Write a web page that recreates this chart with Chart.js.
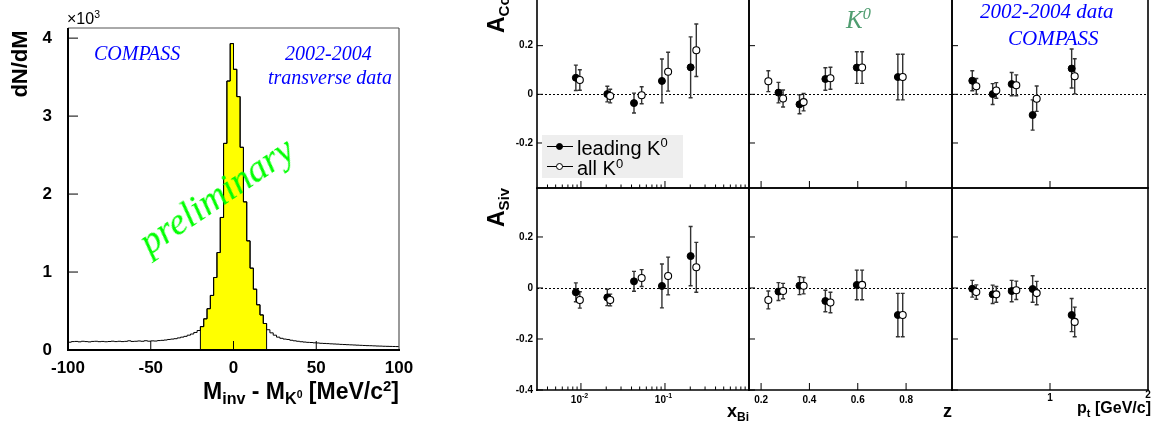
<!DOCTYPE html>
<html>
<head>
<meta charset="utf-8">
<script src="https://cdn.jsdelivr.net/npm/chart.js@4.4.1/dist/chart.umd.min.js"></script>
<style>
  html, body { margin: 0; padding: 0; background: #fff; overflow: hidden; }
  #wrap { position: relative; width: 1155px; height: 421px; overflow: hidden; }
  canvas { position: absolute; }
  .t { position: absolute; white-space: nowrap; line-height: 1; color: #000; }
  .b { font-family: "Liberation Sans", Arial, sans-serif; font-weight: bold; }
  .s { font-family: "Liberation Sans", Arial, sans-serif; }
  .i { font-family: "Liberation Serif", "Times New Roman", serif; font-style: italic; }
  sub, sup { position: relative; vertical-align: baseline; font-size: 0.65em; line-height: 0; }
  sup { top: -0.55em; }
  sub { top: 0.32em; }
  .mk { position: absolute; }
</style>
</head>
<body>
<div id="wrap">
  <canvas id="hist" width="420" height="421" style="left:0;top:0"></canvas>

  <!-- left panel texts -->
  <div class="t b" style="left:20px;top:64px;font-size:22px;transform:translate(-50%,-50%) rotate(-90deg)">dN/dM</div>
  <div class="t s" style="left:67px;top:11px;font-size:16px">&times;10<sup>3</sup></div>
  <div class="t i" style="left:94px;top:43px;font-size:20px;color:#0000ff">COMPASS</div>
  <div class="t i" style="left:285px;top:43px;font-size:20px;color:#0000ff">2002-2004</div>
  <div class="t i" style="left:268px;top:67px;font-size:20px;color:#0000ff">transverse data</div>
  <div class="t i" style="left:216px;top:195px;font-size:38px;color:#00ff00;transform:translate(-50%,-50%) rotate(-34deg)">preliminary</div>
  <div class="t b" style="right:756px;top:380px;font-size:23px">M<sub style="font-size:0.7em">inv</sub> - M<sub style="font-size:0.7em">K<sup>0</sup></sub> [MeV/c<sup>2</sup>]</div>

  <!-- right panel texts -->
  <div class="t i" style="left:846px;top:7px;font-size:25px;color:#4f9d70">K<sup>0</sup></div>
  <div class="t i" style="left:980px;top:1px;font-size:21px;color:#0000ff">2002-2004 data</div>
  <div class="t i" style="left:1008px;top:28px;font-size:21px;color:#0000ff">COMPASS</div>
  <div class="t b" style="left:485px;top:33px;font-size:23px;transform-origin:0 0;transform:rotate(-90deg)">A<sub style="font-size:15px">Coll</sub></div>
  <div class="t b" style="left:485px;top:227px;font-size:23px;transform-origin:0 0;transform:rotate(-90deg)">A<sub style="font-size:15px">Siv</sub></div>
  <div class="t b" style="right:406px;top:402px;font-size:18px">x<sub style="font-size:12px">Bj</sub></div>
  <div class="t b" style="right:203px;top:402px;font-size:18px">z</div>
  <div class="t b" style="right:4px;top:400px;font-size:16px">p<sub style="font-size:11px">t</sub> [GeV/c]</div>
</div>

<script>
// ---------- left: K0 invariant mass spectrum (units of 10^3, 2 MeV bins) ----------
const massRange = [-100, 100];
const binWidth = 2;
const counts = [
  0.100, 0.108, 0.110, 0.105, 0.112, 0.108, 0.104, 0.110, 0.112, 0.107,
  0.110, 0.106, 0.109, 0.113, 0.108, 0.112, 0.108, 0.111, 0.118, 0.110,
  0.112, 0.116, 0.112, 0.119, 0.113, 0.117, 0.115, 0.121, 0.124, 0.128,
  0.135, 0.140, 0.145, 0.155, 0.165, 0.175, 0.190, 0.205, 0.225, 0.250,
  0.300, 0.400, 0.530, 0.700, 0.930, 1.250, 1.700, 2.650, 3.450, 3.930,
  3.600, 3.250, 2.600, 1.900, 1.400, 1.050, 0.780, 0.580, 0.450, 0.340,
  0.260, 0.220, 0.190, 0.165, 0.150, 0.140, 0.135, 0.125, 0.118, 0.112,
  0.106, 0.102, 0.098, 0.096, 0.092, 0.090, 0.086, 0.084, 0.082, 0.079,
  0.077, 0.075, 0.072, 0.070, 0.068, 0.066, 0.064, 0.062, 0.060, 0.058,
  0.056, 0.055, 0.053, 0.051, 0.050, 0.048, 0.047, 0.046, 0.045, 0.044
];
const signalWindow = [-20, 20];

// ---------- right: asymmetries vs x_Bj, z, p_t ----------
const xBjLead = [0.0087, 0.0206, 0.0428, 0.092, 0.202];
const xBjAll  = [0.0097, 0.0223, 0.0528, 0.109, 0.236];
const zLead   = [0.272, 0.359, 0.466, 0.596, 0.766];
const zAll    = [0.230, 0.291, 0.376, 0.487, 0.618, 0.786];
const ptLead  = [0.207, 0.415, 0.609, 0.823, 1.221];
const ptAll   = [0.248, 0.452, 0.656, 0.864, 1.252];

const collXbjLead = [0.068, 0.001, -0.036, 0.055, 0.111];
const collXbjLeadErr = [0.052, 0.032, 0.041, 0.090, 0.125];
const collXbjAll = [0.059, -0.007, -0.004, 0.093, 0.181];
const collXbjAllErr = [0.042, 0.028, 0.035, 0.080, 0.108];
const collZLead = [0.007, -0.041, 0.063, 0.110, 0.071];
const collZLeadErr = [0.042, 0.039, 0.046, 0.065, 0.094];
const collZAll = [0.054, -0.017, -0.032, 0.066, 0.110, 0.071];
const collZAllErr = [0.043, 0.035, 0.036, 0.045, 0.065, 0.094];
const collPtLead = [0.056, 0.001, 0.042, -0.085, 0.106];
const collPtLeadErr = [0.041, 0.043, 0.048, 0.062, 0.080];
const collPtAll = [0.033, 0.016, 0.037, -0.018, 0.074];
const collPtAllErr = [0.032, 0.032, 0.043, 0.052, 0.072];

const sivXbjLead = [-0.017, -0.037, 0.026, 0.008, 0.125];
const sivXbjLeadErr = [0.037, 0.032, 0.039, 0.086, 0.116];
const sivXbjAll = [-0.047, -0.047, 0.039, 0.047, 0.081];
const sivXbjAllErr = [0.032, 0.023, 0.033, 0.074, 0.098];
const sivZLead = [-0.014, 0.009, -0.051, 0.012, -0.106];
const sivZLeadErr = [0.035, 0.035, 0.042, 0.058, 0.085];
const sivZAll = [-0.047, -0.012, 0.009, -0.057, 0.012, -0.106];
const sivZAllErr = [0.035, 0.030, 0.032, 0.040, 0.058, 0.085];
const sivPtLead = [-0.003, -0.025, -0.012, -0.004, -0.106];
const sivPtLeadErr = [0.033, 0.036, 0.042, 0.052, 0.065];
const sivPtAll = [-0.016, -0.025, -0.009, -0.020, -0.133];
const sivPtAllErr = [0.028, 0.031, 0.036, 0.046, 0.058];

const legendLabels = ['leading K', 'all K'];

// ROOT-like frame, inward ticks, zero line and error bars
const rootAxes = {
  id: 'rootAxes',
  beforeDatasetsDraw(chart, args, o) {
    const { ctx, chartArea: a, scales: { x, y } } = chart;
    ctx.save();
    ctx.beginPath();
    ctx.rect(a.left - 1, a.top - 1, a.width + 2, a.height + 2);
    ctx.clip();
    if (o.zero) {
      const y0 = Math.round(y.getPixelForValue(0)) + 0.5;
      ctx.setLineDash([2, 2]);
      ctx.strokeStyle = '#000';
      ctx.lineWidth = 1;
      ctx.beginPath();
      ctx.moveTo(a.left, y0);
      ctx.lineTo(a.right, y0);
      ctx.stroke();
      ctx.setLineDash([]);
    }
    chart.data.datasets.forEach(ds => {
      if (!ds.errors) return;
      ctx.strokeStyle = '#333';
      ctx.lineWidth = 1.4;
      ds.data.forEach((p, j) => {
        const px = x.getPixelForValue(p.x);
        const hi = y.getPixelForValue(p.y + ds.errors[j]);
        const lo = y.getPixelForValue(p.y - ds.errors[j]);
        ctx.beginPath();
        ctx.moveTo(px, hi); ctx.lineTo(px, lo);
        ctx.moveTo(px - 2, hi); ctx.lineTo(px + 2, hi);
        ctx.moveTo(px - 2, lo); ctx.lineTo(px + 2, lo);
        ctx.stroke();
      });
    });
    ctx.restore();
  },
  afterDraw(chart, args, o) {
    const { ctx, chartArea: a, scales: { x, y } } = chart;
    ctx.save();
    ctx.strokeStyle = '#000';
    ctx.lineWidth = 1;
    ctx.beginPath();
    (o.xMajor || []).forEach(v => {
      const px = x.getPixelForValue(v);
      ctx.moveTo(px, a.bottom); ctx.lineTo(px, a.bottom - o.xLen);
    });
    (o.xMinor || []).forEach(v => {
      const px = x.getPixelForValue(v);
      ctx.moveTo(px, a.bottom); ctx.lineTo(px, a.bottom - o.xLen / 2);
    });
    (o.yMajor || []).forEach(v => {
      const py = y.getPixelForValue(v);
      if (py < a.top - 1 || py > a.bottom + 1) return;
      ctx.moveTo(a.left, py); ctx.lineTo(a.left + o.yLen, py);
    });
    ctx.stroke();

    // frame: [top, right, bottom, left]
    const side = (w, col, x1, y1, x2, y2) => {
      if (!w) return;
      ctx.strokeStyle = col;
      ctx.lineWidth = w;
      ctx.beginPath(); ctx.moveTo(x1, y1); ctx.lineTo(x2, y2); ctx.stroke();
    };
    const f = o.frame, c = o.frameColor;
    side(f[0], c[0], a.left, a.top, a.right, a.top);
    side(f[1], c[1], a.right, a.top, a.right, a.bottom);
    side(f[2], c[2], a.left - 1, a.bottom, a.right + 1, a.bottom);
    side(f[3], c[3], a.left, a.top, a.left, a.bottom + 1);

    ctx.fillStyle = '#000';
    ctx.textBaseline = 'middle';
    if (o.yLabels) {
      ctx.font = 'bold 10px "Liberation Sans", Arial, sans-serif';
      ctx.textAlign = 'right';
      o.yLabels.forEach(v => {
        ctx.fillText(String(v), a.left - 4, y.getPixelForValue(v));
      });
    }
    if (o.xLabels) {
      o.xLabels.forEach(l => {
        const px = x.getPixelForValue(l[0]);
        const ly = a.bottom + 10 + (l[3] || 0);
        ctx.font = 'bold 10px "Liberation Sans", Arial, sans-serif';
        if (l[2]) {
          ctx.textAlign = 'right';
          ctx.fillText(l[1], px + 1, ly);
          ctx.font = 'bold 7px "Liberation Sans", Arial, sans-serif';
          ctx.textAlign = 'left';
          ctx.fillText(l[2], px + 1, ly - 4);
        } else {
          ctx.textAlign = 'center';
          ctx.fillText(l[1], px, ly);
        }
      });
    }
    ctx.restore();
  }
};

// histogram points at bin edges, drawn stepped
const edges = counts.map((c, i) => massRange[0] + i * binWidth);
const histLine = edges.map((e, i) => ({ x: e, y: counts[i] }));
histLine.push({ x: massRange[1], y: counts[counts.length - 1] });

const inWindow = edges.map((e, i) => ({ x: e, y: counts[i] }))
  .filter(p => p.x >= signalWindow[0] && p.x < signalWindow[1]);
const signalFill = [{ x: signalWindow[0], y: 0 }, ...inWindow,
  { x: signalWindow[1], y: inWindow[inWindow.length - 1].y }, { x: signalWindow[1], y: 0 }];

const tickFont = { family: 'Liberation Sans', weight: 'bold', size: 17 };

new Chart(document.getElementById('hist'), {
  type: 'line',
  data: {
    datasets: [
      { data: histLine, stepped: true, borderColor: '#000', borderWidth: 1, pointRadius: 0, fill: false, order: 0 },
      { data: signalFill, stepped: true, borderColor: '#000', borderWidth: 1, pointRadius: 0,
        backgroundColor: '#ffff00', fill: 'origin', order: 1 }
    ]
  },
  options: {
    responsive: false,
    animation: false,
    events: [],
    layout: { padding: { left: 0, top: 28, right: 21, bottom: 0 } },
    scales: {
      x: {
        type: 'linear', min: massRange[0], max: massRange[1],
        grid: { display: false }, border: { display: false },
        ticks: { stepSize: 50, font: tickFont, color: '#000', padding: 0, maxRotation: 0, autoSkip: false },
        afterFit: s => { s.height = 71; }
      },
      y: {
        min: 0, max: 4.13,
        grid: { display: false }, border: { display: false },
        ticks: { stepSize: 1, includeBounds: false, font: tickFont, color: '#000', padding: 8 },
        afterFit: s => { s.width = 68; }
      }
    },
    plugins: {
      legend: { display: false },
      tooltip: { enabled: false },
      rootAxes: {
        xMajor: [-50, 0, 50], xLen: 9, yMajor: [1, 2, 3, 4], yLen: 10,
        frame: [1, 1.2, 2, 2], frameColor: ['#555', '#555', '#000', '#000']
      }
    }
  },
  plugins: [rootAxes]
});

// ---------- 2 x 3 grid of asymmetry panels ----------
const columns = [
  { left: 537, right: 749, type: 'logarithmic', min: 0.003, max: 1, lead: xBjLead, all: xBjAll,
    major: [0.01, 0.1],
    minor: [0.004, 0.005, 0.006, 0.007, 0.008, 0.009, 0.02, 0.03, 0.04, 0.05, 0.06, 0.07, 0.08, 0.09,
            0.2, 0.3, 0.4, 0.5, 0.6, 0.7, 0.8, 0.9],
    labels: [[0.01, '10', '-2'], [0.1, '10', '-1']] },
  { left: 749, right: 952, type: 'linear', min: 0.15, max: 0.99, lead: zLead, all: zAll,
    major: [0.2, 0.4, 0.6, 0.8], minor: [],
    labels: [[0.2, '0.2'], [0.4, '0.4'], [0.6, '0.6'], [0.8, '0.8']] },
  { left: 952, right: 1148, type: 'linear', min: 0, max: 2, lead: ptLead, all: ptAll,
    major: [1], minor: [],
    labels: [[1, '1', null, -2], [2, '2', null, -5]] }
];
const rows = [
  { top: -3, bottom: 188, min: -0.385, max: 0.4, yLabels: [0.4, 0.2, 0, -0.2],
    sets: [[collXbjLead, collXbjLeadErr, collXbjAll, collXbjAllErr],
           [collZLead, collZLeadErr, collZAll, collZAllErr],
           [collPtLead, collPtLeadErr, collPtAll, collPtAllErr]] },
  { top: 188, bottom: 390, min: -0.4, max: 0.392, yLabels: [0.2, 0, -0.2, -0.4],
    sets: [[sivXbjLead, sivXbjLeadErr, sivXbjAll, sivXbjAllErr],
           [sivZLead, sivZLeadErr, sivZAll, sivZAllErr],
           [sivPtLead, sivPtLeadErr, sivPtAll, sivPtAllErr]] }
];

const pts = (xs, ys) => xs.map((v, i) => ({ x: v, y: ys[i] }));
const wrap = document.getElementById('wrap');

rows.forEach((row, ri) => columns.forEach((col, ci) => {
  const pad = { left: ci === 0 ? 40 : 6, right: 6, top: 6, bottom: ri === 1 ? 22 : 6 };
  const cv = document.createElement('canvas');
  cv.width = col.right - col.left + pad.left + pad.right;
  cv.height = row.bottom - row.top + pad.top + pad.bottom;
  cv.style.left = (col.left - pad.left) + 'px';
  cv.style.top = (row.top - pad.top) + 'px';
  wrap.insertBefore(cv, wrap.children[1]);
  const s = row.sets[ci];
  new Chart(cv, {
    type: 'scatter',
    data: {
      datasets: [
        { label: legendLabels[1], data: pts(col.all, s[2]), errors: s[3], order: 0,
          pointRadius: 3.5, pointBackgroundColor: '#fff', pointBorderColor: '#000', pointBorderWidth: 1.1 },
        { label: legendLabels[0], data: pts(col.lead, s[0]), errors: s[1], order: 1,
          pointRadius: 3.5, pointBackgroundColor: '#000', pointBorderColor: '#000', pointBorderWidth: 1 }
      ]
    },
    options: {
      responsive: false,
      animation: false,
      events: [],
      layout: { padding: pad },
      scales: {
        x: { type: col.type, min: col.min, max: col.max, display: false },
        y: { min: row.min, max: row.max, display: false }
      },
      plugins: {
        legend: { display: false },
        tooltip: { enabled: false },
        rootAxes: {
          zero: true,
          xMajor: col.major, xMinor: col.minor, xLen: 7,
          yMajor: [-0.4, -0.2, 0, 0.2, 0.4], yLen: 6,
          frame: [1.6, 1.6, 1.6, 1.6], frameColor: ['#000', '#000', '#000', '#000'],
          yLabels: ci === 0 ? row.yLabels : null,
          xLabels: ri === 1 ? col.labels : null
        }
      }
    },
    plugins: [rootAxes]
  });
}));

// legend box (inside the x_Bj Collins panel)
const leg = document.createElement('div');
leg.className = 'mk';
leg.style.cssText = 'left:542px;top:135px;width:141px;height:43px;background:#eeeeee;';
wrap.appendChild(leg);
[[146, '#000'], [166.5, '#fff']].forEach((r, i) => {
  const line = document.createElement('div');
  line.className = 'mk';
  line.style.cssText = `left:547px;top:${r[0] - 0.5}px;width:26px;height:1px;background:#000;`;
  const dot = document.createElement('div');
  dot.className = 'mk';
  dot.style.cssText = `left:556px;top:${r[0] - 3.5}px;width:5px;height:5px;border:1px solid #000;border-radius:50%;background:${r[1]};`;
  const txt = document.createElement('div');
  txt.className = 't s';
  txt.style.cssText = `left:577px;top:${r[0] - 8.5}px;font-size:20px;`;
  txt.innerHTML = legendLabels[i] + '<sup>0</sup>';
  wrap.appendChild(line); wrap.appendChild(dot); wrap.appendChild(txt);
});
</script>
</body>
</html>
